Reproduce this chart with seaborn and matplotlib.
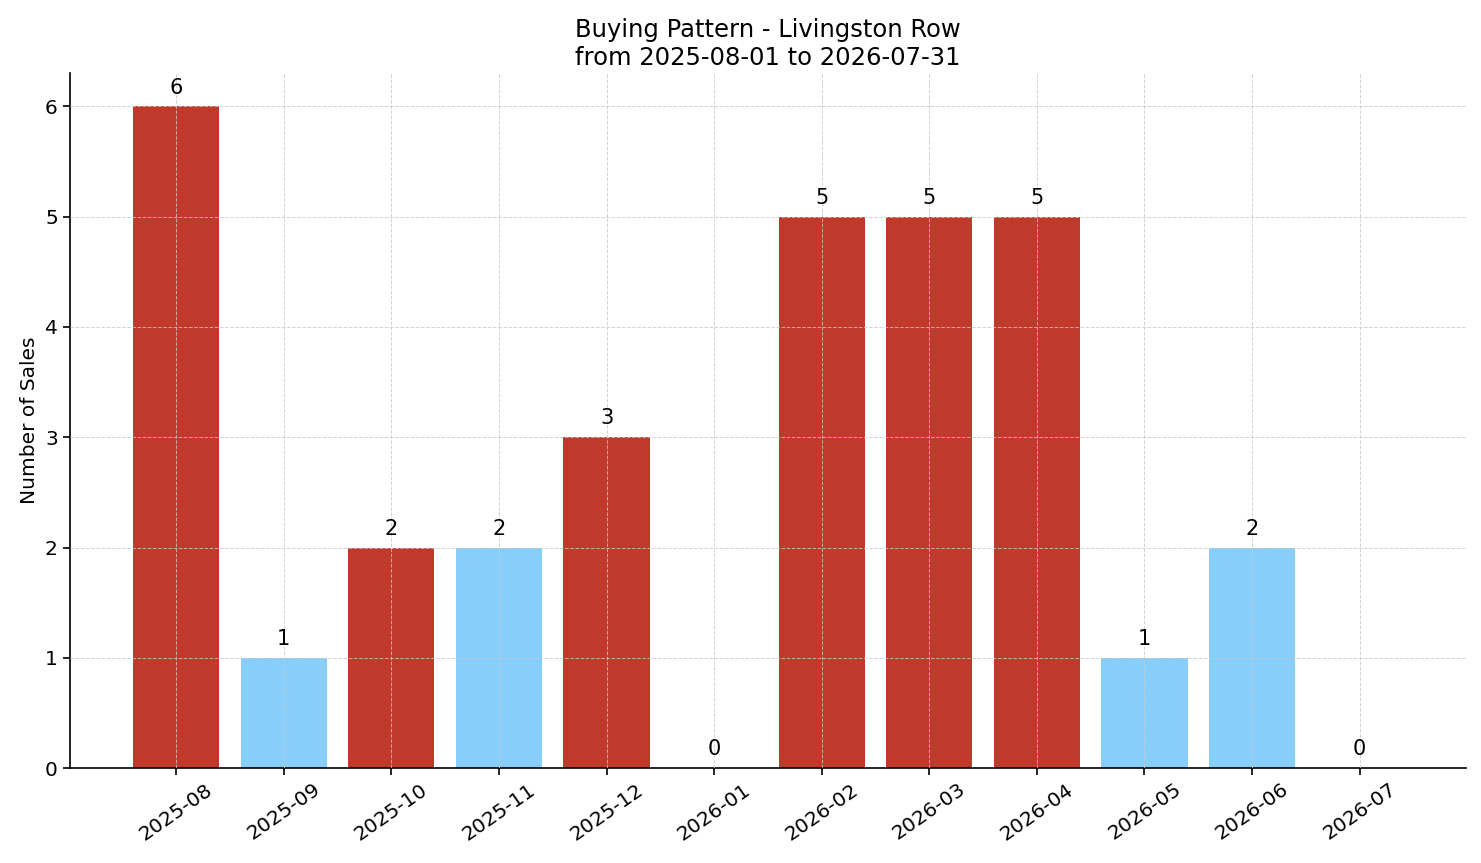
import numpy as np
import pandas as pd
import matplotlib
matplotlib.use('Agg')
import matplotlib.pyplot as plt
import seaborn as sns

months = ['2025-08', '2025-09', '2025-10', '2025-11', '2025-12', '2026-01',
          '2026-02', '2026-03', '2026-04', '2026-05', '2026-06', '2026-07']
sales = [6, 1, 2, 2, 3, 0, 5, 5, 5, 1, 2, 0]
bar_colors = ['#c0392b', '#87cefa', '#c0392b', '#87cefa', '#c0392b', '#87cefa',
              '#c0392b', '#c0392b', '#c0392b', '#87cefa', '#87cefa', '#87cefa']

sns.set_style('white')
plt.rcParams['font.family'] = ['DejaVu Sans']
plt.rcParams['text.color'] = 'black'
plt.rcParams['axes.labelcolor'] = 'black'
plt.rcParams['xtick.color'] = 'black'
plt.rcParams['ytick.color'] = 'black'

df = pd.DataFrame({'month': months, 'sales': sales})

fig, ax = plt.subplots(figsize=(14.81, 8.63), dpi=100)
sns.barplot(data=df, x='month', y='sales', hue='month', palette=bar_colors,
            legend=False, width=0.8, saturation=1, linewidth=0, ax=ax)

for i, v in enumerate(sales):
    ax.text(i, v + 0.08, str(v), ha='center', va='bottom', fontsize=15)

ax.set_xlim(-0.99, 11.99)
ax.set_ylim(0, 6.3)
ax.grid(True, linestyle='--', color='#c8c8c8', linewidth=0.7, alpha=0.8)
ax.set_axisbelow(False)
sns.despine(ax=ax)
for s in ['left', 'bottom']:
    ax.spines[s].set_color('black')
    ax.spines[s].set_linewidth(1.2)
ax.tick_params(axis='both', labelsize=14.5, length=5, width=1.2, color='black', bottom=True, left=True)
plt.setp(ax.get_xticklabels(), rotation=35, ha='center')
ax.set_xlabel('')
ax.set_ylabel('Number of Sales', fontsize=14.5)
ax.set_title('Buying Pattern - Livingston Row\nfrom 2025-08-01 to 2026-07-31', fontsize=17.5)

fig.subplots_adjust(left=0.047, right=0.99, top=0.915, bottom=0.11)
fig.savefig('out.png', dpi=100)
